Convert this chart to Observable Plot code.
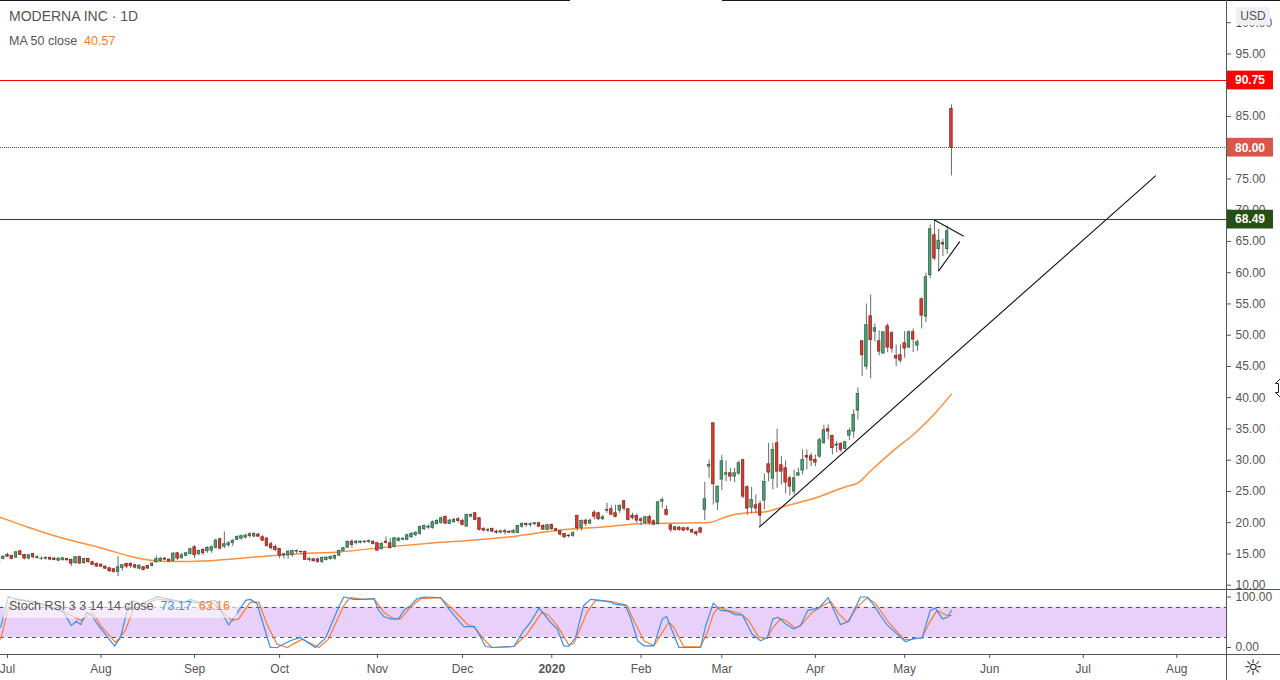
<!DOCTYPE html>
<html>
<head>
<meta charset="utf-8">
<script src="https://cdn.jsdelivr.net/npm/d3@7"></script>
<script src="https://cdn.jsdelivr.net/npm/@observablehq/plot@0.6"></script>
<style>
html,body{margin:0;padding:0;background:#fff;overflow:hidden}
#chart{position:relative;width:1280px;height:680px;font-family:"Liberation Sans",Arial,sans-serif;color:#555}
#chart svg{display:block}
.abs{position:absolute;white-space:nowrap}
</style>
</head>
<body>
<div id="chart"></div>
<script>
const firstBar = -2;
const directions = ("GGRRGRRGRG"+"GGRRGGRRGR"+"GRRRRRRRGG"+"RRRGRRGGGR"+"RGRGGGRGRG"+"GGRGGGGGGR"+"GRRRRRRGGG"+"GRRGRRGGGG"+
  "GGGRGGGGRR"+"GRRGGGGGGG"+"GGGGGRGGRR"+"GGRRRGRRGR"+"RGGGRGGRRG"+"RRRRRGRGRG"+"RRGGRRGRRR"+"RRGRRGGRRR"+
  "RRRRRRGGRG"+"GGRGGRRGRR"+"GRGRRRRGGG"+"RRRGGRRGRG"+"GGGRGRGRGR"+"RRRRGRGRGG"+"RGRGR").split("");
const bodyHigh = [
14.15,14.57,14.84,14.68,15.27,15.43,14.84,14.79,15.0,14.47,
14.25,14.36,14.36,14.25,14.25,14.31,14.2,14.04,14.47,14.52,
14.2,14.2,13.67,13.4,13.29,12.97,12.71,12.55,12.87,13.19,
13.4,13.4,13.19,13.13,12.87,13.08,13.45,14.15,14.25,14.25,
14.09,15.05,15.11,14.79,15.11,15.75,16.07,15.48,15.64,15.96,
16.07,17.13,17.35,16.55,16.71,17.08,17.72,17.83,17.93,18.15,
18.2,18.09,17.67,17.45,16.55,16.12,15.8,14.95,15.37,15.48,
15.48,15.32,15.32,14.15,14.15,14.15,14.36,14.41,14.52,14.68,
15.48,15.91,16.92,16.97,16.97,16.97,16.97,17.08,16.97,16.71,
16.6,16.97,16.71,17.51,17.45,17.4,17.99,18.2,18.41,19.32,
19.48,19.37,20.07,20.28,20.71,20.92,20.33,20.44,20.55,20.28,
21.24,21.24,21.51,20.71,19.0,18.84,19.0,18.57,18.63,18.63,
18.52,18.68,19.48,19.8,19.8,19.75,19.91,19.91,19.48,19.59,
19.64,18.95,18.63,18.2,17.93,18.31,21.08,20.28,20.33,20.33,
21.61,21.51,20.87,22.04,22.15,21.51,22.68,23.43,22.15,21.08,
21.08,20.55,20.87,20.92,20.23,23.27,23.59,22.04,19.59,19.27,
19.21,19.11,19.11,18.84,18.47,19.11,23.75,29.24,35.91,25.77,
29.83,27.91,27.91,27.91,29.51,29.99,25.67,23.64,22.79,22.95,
26.52,29.35,31.64,32.71,29.19,28.71,27.11,27.11,27.91,30.04,
30.68,30.63,30.04,33.19,34.79,34.95,33.88,32.49,32.6,32.87,
34.68,37.24,40.6,49.03,51.59,53.03,51.11,49.03,50.47,51.43,
50.31,46.68,46.79,48.71,50.47,50.47,48.87,55.75,59.27,66.95,
65.99,65.13,64.76,66.63,86.2];
const bodyLow = [
13.4,14.2,14.57,14.2,14.41,14.84,14.25,14.25,14.47,14.36,
14.2,14.25,14.09,14.04,13.93,13.99,13.99,13.45,13.51,13.45,
13.51,13.67,13.24,12.97,12.97,12.65,12.23,12.12,12.12,12.76,
12.97,13.03,12.81,12.65,12.44,12.65,13.08,13.67,13.88,14.09,
13.77,13.88,14.25,14.31,14.68,15.0,14.79,14.95,15.11,15.43,
15.53,15.96,15.85,16.17,16.39,16.71,17.24,17.45,17.61,17.88,
17.77,17.77,17.13,16.28,15.91,15.64,14.73,14.79,14.84,14.84,
15.37,15.27,14.04,14.04,13.83,13.72,13.72,14.04,14.15,14.25,
14.73,15.48,16.01,16.44,16.71,16.81,16.87,16.92,16.6,15.53,
15.75,16.76,15.91,16.12,17.08,17.29,17.24,17.67,17.99,18.2,
18.95,19.21,19.16,19.75,19.96,19.85,19.8,20.07,20.28,19.64,
19.37,20.97,20.44,18.84,18.73,18.73,18.57,18.41,18.41,18.47,
18.41,18.36,18.36,19.37,19.64,19.64,19.75,19.37,18.89,18.84,
18.95,18.73,18.09,17.67,17.83,17.88,19.11,19.16,19.8,19.85,
20.97,20.55,20.55,21.93,21.29,20.92,21.93,22.25,20.44,20.76,
20.33,20.28,19.96,19.96,19.69,19.75,23.37,21.24,18.84,18.84,
18.84,18.73,18.84,18.41,18.15,18.41,22.04,28.97,26.15,23.21,
26.89,27.69,27.37,27.37,27.85,24.17,22.25,22.41,22.25,21.13,
23.53,28.01,27.05,28.17,28.17,26.41,25.77,24.97,27.53,28.33,
30.41,29.93,29.61,30.57,32.71,34.57,31.91,32.33,31.64,31.8,
33.93,34.57,37.93,46.79,44.97,49.19,50.57,47.37,47.05,48.01,
47.85,46.25,45.93,47.85,48.01,49.29,48.33,53.13,52.97,59.59,
62.25,63.75,64.49,63.75,80.0];
const highs = [
14.26,14.68,15.11,14.84,15.37,15.53,14.95,14.95,15.11,14.73,
14.52,14.57,14.52,14.47,14.36,14.41,14.31,14.2,14.57,14.57,
14.31,14.31,13.83,13.56,13.4,13.08,12.81,12.71,14.57,13.29,
13.51,13.61,13.35,13.24,12.97,13.19,13.61,14.68,14.41,14.41,
14.2,15.21,15.27,15.11,15.27,15.91,16.33,15.64,15.85,16.17,
16.28,17.4,17.56,18.52,16.97,17.29,17.88,18.04,18.15,18.36,
18.41,18.31,17.93,17.61,16.87,16.44,15.91,15.11,15.48,15.64,
15.64,15.48,15.48,14.41,14.31,14.25,14.47,14.52,14.68,14.84,
15.64,16.01,17.08,17.24,17.13,17.08,17.08,17.24,17.08,16.87,
16.81,17.72,17.51,17.61,17.61,17.61,18.15,18.41,18.52,19.48,
19.64,19.64,20.28,20.49,20.87,21.08,20.6,20.71,20.81,20.55,
21.35,21.4,21.61,20.81,19.21,19.11,19.16,18.84,18.79,18.95,
18.73,18.89,19.59,20.01,19.96,19.96,20.07,20.07,19.69,19.75,
19.8,19.11,18.73,18.31,18.09,18.57,21.19,20.44,20.55,20.55,
21.93,21.67,21.19,23.11,22.68,22.79,22.89,23.53,22.25,21.51,
21.4,20.81,20.97,21.19,20.44,23.37,23.96,22.68,19.69,19.37,
19.37,19.27,19.27,19.0,18.63,19.27,26.47,30.04,35.91,25.88,
30.79,29.88,28.71,28.71,29.88,30.15,25.88,25.67,24.44,23.48,
27.8,32.71,32.71,34.95,30.57,29.88,27.48,28.44,28.71,31.64,
31.64,31.11,30.84,33.51,35.59,35.64,33.99,32.97,32.81,33.03,
35.11,38.04,41.6,49.03,55.0,56.44,51.8,50.68,50.47,51.8,
50.57,48.44,48.44,50.57,50.68,51.0,49.24,55.96,59.91,67.64,
68.44,66.95,65.35,67.48,86.84];
const lows = [
13.24,14.04,14.41,14.04,14.31,14.73,14.04,14.04,14.2,14.15,
13.99,13.99,13.93,13.88,13.77,13.88,13.77,12.97,13.4,13.35,
13.35,13.51,13.13,12.81,12.81,12.49,12.01,11.91,11.37,12.23,
12.65,12.65,12.6,12.44,12.28,12.55,12.92,13.51,13.72,13.93,
13.72,13.72,13.93,14.15,14.57,14.84,14.25,14.73,14.79,15.11,
15.11,15.8,15.64,15.85,16.07,16.17,17.13,17.24,17.4,17.51,
17.67,17.61,16.97,16.07,15.64,15.37,14.25,14.2,14.15,14.47,
15.0,15.0,13.99,13.72,13.67,13.51,13.45,13.88,14.04,13.99,
14.57,15.37,15.91,15.91,16.44,16.6,16.65,16.65,16.44,15.43,
15.64,16.6,15.8,15.96,16.92,17.13,17.13,17.51,17.77,18.04,
18.73,18.95,18.95,19.64,19.75,19.69,19.69,19.91,19.96,19.48,
19.27,20.76,20.33,18.68,18.52,18.41,18.41,18.15,18.2,18.04,
18.25,18.25,18.25,19.11,19.27,19.27,19.53,19.21,18.79,18.73,
18.79,18.52,17.88,17.45,17.56,17.67,18.63,18.63,19.37,19.69,
20.44,20.33,20.33,21.51,21.08,20.76,21.51,21.83,20.28,20.44,
19.91,19.53,19.64,19.59,19.48,19.64,22.31,21.08,18.41,18.63,
18.63,18.57,18.63,18.25,17.77,18.25,20.33,27.05,22.84,21.93,
25.13,26.57,26.57,26.41,27.59,23.85,21.19,21.4,21.51,19.37,
22.04,26.57,25.24,25.51,26.04,24.6,24.28,24.44,27.37,27.64,
28.44,28.97,28.97,30.31,32.55,33.24,30.84,31.21,31.21,31.64,
33.13,33.51,36.44,43.37,44.44,43.05,48.97,46.68,47.05,47.21,
47.11,44.97,45.51,46.31,47.91,47.21,47.37,51.0,52.01,59.05,
61.93,60.28,62.57,62.95,75.48];

const maBars = [-2,5,12,22,30,35,40,46,60,70,78,90,100,110,120,130,140,150,160,165,170,175,178,183,190,197,200,203,208,214,218,222];
const maValues = [20.92,19.24,17.72,15.96,14.44,13.88,13.8,13.88,14.6,15.08,15.32,16.17,16.76,17.24,17.88,18.84,19.32,19.88,19.96,20.04,21.16,21.64,21.72,22.68,23.96,25.72,26.36,28.28,31.32,34.68,37.4,40.57];

const kBars = [-1.6,0.2,2.3,7,13.2,15,16.2,17.2,18.6,19.9,21.1,25.2,26.6,28.5,29.7,31.3,35.2,38.3,41.5,43,45.4,48.9,52,53.6,56,57.1,58.7,61.8,63.4,66.5,68.9,72.4,74.8,77.9,79.1,81.4,83.8,86.2,87.3,88.5,90.1,92,93.2,94.8,96.3,97.9,101.8,103.8,105.4,107.3,109.7,110.9,112.4,114.4,119.1,121.4,123,125,127.7,129.3,130.8,132,133.6,135.5,137.1,139.5,141.8,142.9,145.3,146.5,148.2,149.7,152,154,155,157.9,163,164.2,166,167.7,169.6,171.2,172.8,175.1,177.1,178.7,180,181.2,183,184.9,186.5,188.2,190.8,193,195.9,197.9,200.6,202.2,203.8,205.3,206.9,211.2,213.1,215.1,217,218.2,219.9,221.1,222];
const kValues = [40,100,95.3,90,70,43.3,52,45.3,70,63.3,46.6,2.6,20,86.6,92,86.6,100,95.3,88,95.3,88.6,93.3,44.6,63.3,93.3,95.3,86.6,0,0,13.3,20,0,18.6,80,100,95.3,95.3,96.6,73.3,61.3,56.6,56.6,73.3,83.3,96.6,100,98.6,76.6,60,41.3,42,26.6,2,0,2,33.3,50,78,50,36.6,3.3,2,20,83.3,95.3,93.3,90,85.3,83.3,60,13.3,3.3,3.3,56.6,61.3,0,0,43.4,88,73.4,72,64.7,64.7,26.7,13.3,20,56.7,60,46.7,36.7,43.4,73.4,78,98.7,45.4,52,100,100,83.4,63.4,44.7,11.4,18,18.7,73.4,78,56.7,60,73.17];
const dBars = [-1.6,0.3,1.9,7,13.2,17.2,20.1,21.9,25.4,27.7,30.1,32.1,35.2,38.3,43,48.5,52.8,54.4,57.1,59.1,61,63.4,65.8,69.3,73.2,75.5,79.1,80.6,83.8,86.2,88.5,90.9,92.4,94.4,97.1,101.8,105,108.1,110,112,113.9,119.1,122.2,125.7,127.3,129.3,132,133.2,136.3,138.3,141.8,145.7,147.3,149.7,152,155.5,156.7,159,163,164.6,166,167.3,169.3,172.4,174.3,176.7,178.7,179.8,181.8,183,185.3,186.5,189.3,191.2,193.6,195.5,197.5,199.8,202.2,204.2,206.9,210.8,212.4,215.1,216.7,218.6,221,222];
const dValues = [16.6,80,95.3,88,71.3,53.3,69.3,43.3,10,33.3,86.6,86.6,95.3,93.3,90,86.6,53.3,56.6,90,90,46.6,6.6,0,16.6,0,16.6,83.3,98.6,95.3,96.6,70,56.6,56.6,76.6,96.6,98.6,73.3,46.6,38.6,16.6,0,2,26.6,70,63.3,43.3,5.3,8,70,93.3,91.3,83.3,53.3,13.3,3.3,50,40,2,1.4,30,66.7,80,73.4,66.7,53.4,20,18,36.7,56.7,53.4,38.7,43.4,70,80,91.4,66.7,50,80,98.7,86.4,53.4,16.7,15.4,20,47.4,73.4,63.4,63.16];

const levelValues = [90.75, 80, 68.49];
const levelLabels = ["90.75", "80.00", "68.49"];
const levelTagColors = ["#ff0000", "#d9574a", "#274e13"];
const levelLineColors = ["#ff0000", "#a8342c", "#274e13"];
const priceTicks = [10,15,20,25,30,35,40,45,50,55,60,65,70,75,85,95,100];
const trendBars = [[176.85,270],[218,224.8],[219,223.9]];
const trendPrices = [[19.32,75.48],[68.44,65.88],[60.28,64.92]];
const monthBars = [0,22,44,64,87,107,128,149,168,190,211,231,253,275];
const monthLabels = ["Jul","Aug","Sep","Oct","Nov","Dec","2020","Feb","Mar","Apr","May","Jun","Jul","Aug"];

const FONT = '"Liberation Sans",Arial,sans-serif';
const xDomain = [-1.646, 286.69];
const tagWidth = 11.05;
const bars = directions.map((dir,k)=>({i:firstBar+k,dir,top:bodyHigh[k],bot:bodyLow[k],hi:highs[k],lo:lows[k]}));
const ma = maBars.map((i,k)=>({i,v:maValues[k]}));
const kLine = kBars.map((i,k)=>({i,v:kValues[k]}));
const dLine = dBars.map((i,k)=>({i,v:dValues[k]}));
const levels = levelValues.map((v,k)=>({v,label:levelLabels[k],tag:levelTagColors[k],line:levelLineColors[k],dash:k===1}));
const trends = trendBars.flatMap((b,k)=>b.map((i,n)=>({i,v:trendPrices[k][n],id:k})));

const main = Plot.plot({
  width:1280,height:589,marginLeft:0,marginRight:54,marginTop:0,marginBottom:0,
  style:{fontFamily:FONT,fontSize:"12px",background:"transparent",overflow:"visible"},
  x:{domain:xDomain,axis:null},
  y:{domain:[9.31,103.55],axis:null},
  marks:[
    Plot.axisY({anchor:"right",ticks:priceTicks,tickFormat:d3.format(".2f"),tickSize:4,tickPadding:5,color:"#555",label:null,fontSize:12}),
    Plot.ruleY(levels.filter(d=>!d.dash),{y:"v",stroke:"line",strokeWidth:1,shapeRendering:"crispEdges"}),
    Plot.ruleY(levels.filter(d=>d.dash),{y:"v",stroke:"line",strokeWidth:1,strokeDasharray:"1,1",shapeRendering:"crispEdges"}),
    Plot.line(ma,{x:"i",y:"v",stroke:"#ff8f3a",strokeWidth:1.5,curve:"monotone-x",clip:true}),
    Plot.ruleX(bars,{x:"i",y1:"lo",y2:"hi",stroke:"#6a6a6a",strokeWidth:1,clip:true}),
    Plot.rect(bars,{x1:d=>d.i-0.3,x2:d=>d.i+0.3,y1:"bot",y2:"top",
      fill:d=>d.dir==="G"?"#4f9f74":"#dc3a2e",stroke:d=>d.dir==="G"?"#2a5c3e":"#7a241b",strokeWidth:0.7,clip:true}),
    Plot.line(trends,{x:"i",y:"v",z:"id",stroke:"#111",strokeWidth:1.1}),
    Plot.rect(levels,{x1:xDomain[1],x2:xDomain[1]+tagWidth,y1:d=>d.v-1.5,y2:d=>d.v+1.5,fill:"tag"}),
    Plot.text(levels,{x:xDomain[1]+tagWidth/2,y:"v",text:"label",fill:"#fff",fontWeight:"bold",fontSize:12})
  ]
});
main.style.position="absolute";main.style.left="0";main.style.top="0";

const rsi = Plot.plot({
  width:1280,height:91,marginLeft:0,marginRight:54,marginTop:0,marginBottom:26,
  style:{fontFamily:FONT,fontSize:"12px",background:"transparent",overflow:"visible"},
  x:{domain:xDomain,axis:null},
  y:{domain:[-13.86,114.85],axis:null},
  marks:[
    Plot.rect([0],{x1:xDomain[0],x2:xDomain[1],y1:20,y2:80,fill:"#e8d0fb"}),
    Plot.ruleY([20,80],{stroke:"#555",strokeWidth:1,strokeDasharray:"4,4",shapeRendering:"crispEdges"}),
    Plot.axisY({anchor:"right",ticks:[0,100],tickFormat:d3.format(".2f"),tickSize:4,tickPadding:5,color:"#555",label:null,fontSize:12}),
    Plot.line(dLine,{x:"i",y:"v",stroke:"#ff7a2a",strokeWidth:1.2,clip:true}),
    Plot.line(kLine,{x:"i",y:"v",stroke:"#3a8ff0",strokeWidth:1.2,clip:true}),
    Plot.axisX({anchor:"bottom",ticks:monthBars.filter((b,k)=>monthLabels[k]!=="2020"),tickFormat:b=>monthLabels[monthBars.indexOf(b)],tickSize:4,tickPadding:6,color:"#555",label:null,fontSize:12,textOverflow:null}),
    Plot.axisX({anchor:"bottom",ticks:monthBars.filter((b,k)=>monthLabels[k]==="2020"),tickFormat:b=>monthLabels[monthBars.indexOf(b)],tickSize:4,tickPadding:6,color:"#555",label:null,fontSize:12,fontWeight:"bold"})
  ]
});
rsi.style.position="absolute";rsi.style.left="0";rsi.style.top="589px";

const chart=document.getElementById("chart");
chart.append(main,rsi);
function box(css,html){const d=document.createElement("div");d.className="abs";d.style.cssText=css;if(html)d.innerHTML=html;chart.appendChild(d);return d;}
box("left:0;top:0;width:570px;height:1px;background:#131722");
box("left:722px;top:0;width:558px;height:1px;background:#131722");
box("left:1226px;top:0;width:1px;height:680px;background:#555");
box("left:0;top:589px;width:1280px;height:1px;background:#555");
box("left:0;top:654px;width:1280px;height:1px;background:#555");
box("left:3px;top:597px;width:234px;height:21px;background:rgba(255,255,255,.6)");
box("left:9px;top:8px;font-size:14px;color:#555","MODERNA INC · 1D");
box("left:9px;top:34px;font-size:12.5px;color:#555",'MA 50 close&nbsp; <span style="color:#ff7a1e">40.57</span>');
box("left:9px;top:599px;font-size:12.5px;color:#555",'Stoch RSI 3 3 14 14 close&nbsp; <span style="color:#3a8ff0">73.17</span>&nbsp; <span style="color:#ff7a1e">63.16</span>');
box("left:1236px;top:7px;width:34px;height:18px;line-height:18px;text-align:center;background:#f0eff4;border-radius:3px;font-size:12px;color:#555","USD");
box("left:1243px;top:658px;font-size:22px;line-height:20px;width:20px;text-align:center;font-family:'DejaVu Sans';color:#222","☼");
box("left:1275px;top:378px;width:5px;height:20px",'<svg width="12" height="20" viewBox="0 0 12 20" style="overflow:hidden"><path d="M5.5 0.5 L10.5 5.5 L7.5 5.5 L7.5 14.5 L10.5 14.5 L5.5 19.5 L0.5 14.5 L3.5 14.5 L3.5 5.5 L0.5 5.5 Z" fill="#fff" stroke="#222" stroke-width="1"/></svg>');
</script>
</body>
</html>
